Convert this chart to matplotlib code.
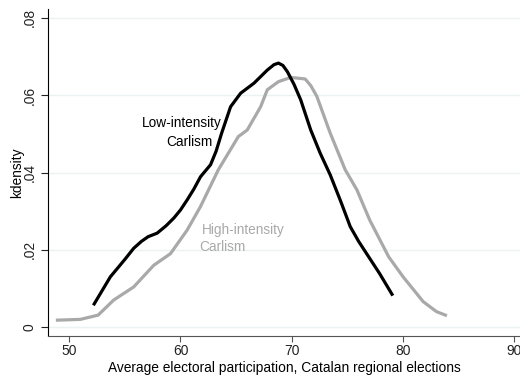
import matplotlib
matplotlib.use("Agg")
import matplotlib.pyplot as plt

# Kernel density curves
low_x = [52.25, 53.7, 55.0, 55.8, 56.5, 57.1, 57.9, 58.7, 59.4, 60.0, 60.6,
         61.2, 61.8, 62.7, 63.2, 63.7, 64.5, 65.4, 66.6, 67.8, 68.4, 68.8,
         69.2, 69.6, 70.2, 70.8, 71.7, 72.55, 73.45, 74.4, 75.25, 76.0, 76.7,
         77.9, 79.0]
low_y = [0.006, 0.013, 0.0175, 0.0204, 0.0222, 0.0234, 0.0243, 0.0262, 0.0282,
         0.0303, 0.0329, 0.0357, 0.0389, 0.042, 0.0455, 0.0502, 0.057, 0.0605,
         0.0631, 0.0665, 0.0679, 0.0683, 0.0677, 0.0661, 0.0628, 0.0588, 0.051,
         0.045, 0.0394, 0.0325, 0.026, 0.0222, 0.0191, 0.0138, 0.0085]

high_x = [48.95, 51.0, 52.6, 54.0, 55.8, 57.6, 59.1, 60.6, 61.8, 63.4, 65.2,
          66.0, 67.2, 67.8, 68.8, 69.9, 71.2, 71.7, 72.25, 73.45, 74.8, 75.85,
          77.0, 78.7, 80.0, 81.8, 83.0, 83.8]
high_y = [0.0018, 0.002, 0.0031, 0.007, 0.0104, 0.016, 0.019, 0.0251, 0.0312,
          0.0407, 0.0493, 0.051, 0.057, 0.0614, 0.0635, 0.0646, 0.0642, 0.0625,
          0.0597, 0.0502, 0.0407, 0.0355, 0.0277, 0.0182, 0.013, 0.0066, 0.004,
          0.0031]

x_ticks = [50, 60, 70, 80, 90]
y_ticks = [0, 0.02, 0.04, 0.06, 0.08]
y_tick_labels = ["0", ".02", ".04", ".06", ".08"]

plt.rcParams['font.family'] = ['Liberation Sans', 'DejaVu Sans']

fig = plt.figure(figsize=(5.2, 3.76), dpi=100)
ax = fig.add_axes([48 / 520, 40 / 376, 1 - 48 / 520, (336 - 9) / 376])

grey = "#a9a9a9"
ax.plot(high_x, high_y, color=grey, lw=2.3, solid_joinstyle="round")
ax.plot(low_x, low_y, color="black", lw=2.3, solid_joinstyle="round")

# labels next to the curves
ax.text(56.56, 0.0529, "Low-intensity", fontsize=9.8, color="black", va="center")
ax.text(58.72, 0.0478, "Carlism", fontsize=9.8, color="black", va="center")
ax.text(61.95, 0.0251, "High-intensity", fontsize=9.8, color=grey, va="center")
ax.text(61.68, 0.0208, "Carlism", fontsize=9.8, color=grey, va="center")

ax.set_xlim(48.1, 90.5)
ax.set_ylim(-0.0023, 0.0823)
ax.set_xticks(x_ticks)
ax.set_yticks(y_ticks)
ax.set_yticklabels(y_tick_labels, rotation=90, va="center")
ax.grid(axis="y", color="#eaf2f3", lw=1)
ax.set_axisbelow(True)

for s in ["top", "right"]:
    ax.spines[s].set_visible(False)
ax.spines["left"].set_color("black")
ax.spines["bottom"].set_color("#555555")
ax.tick_params(axis="x", length=4, width=0.8, pad=2, labelsize=9.9, colors="#222222")
ax.tick_params(axis="y", length=5, width=0.8, pad=3, labelsize=9.9, colors="#222222")
ax.tick_params(axis="x", color="#555555")

ax.set_xlabel("Average electoral participation, Catalan regional elections",
              fontsize=9.9, labelpad=2)
ax.set_ylabel("kdensity", fontsize=9.9, labelpad=-1)

fig.savefig("out.png", dpi=100)
